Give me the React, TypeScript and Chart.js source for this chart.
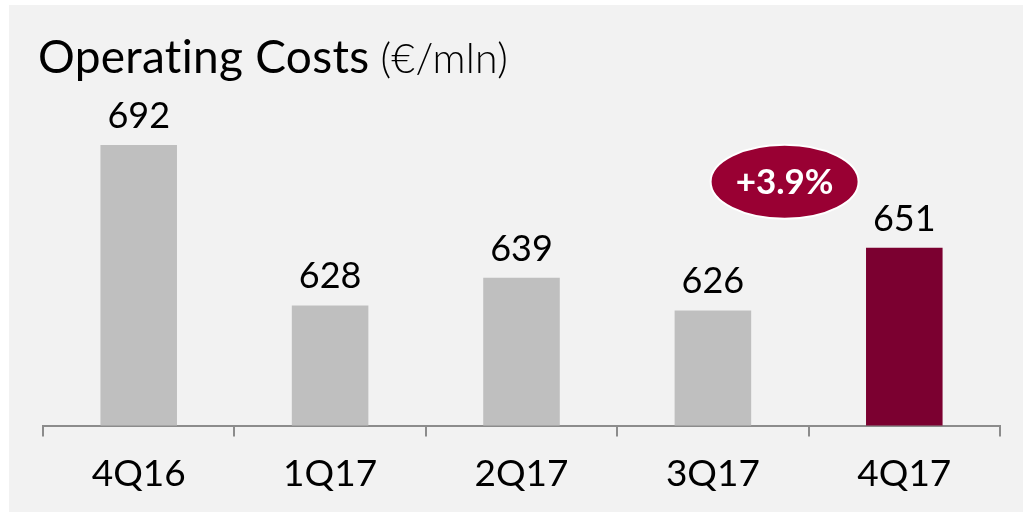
import React, { useEffect, useRef } from "react";
import { Chart, registerables } from "chart.js";

Chart.register(...registerables);

const categories = ["4Q16", "1Q17", "2Q17", "3Q17", "4Q17"];
const values = [692, 628, 639, 626, 651];
const barColors = ["#bfbfbf", "#bfbfbf", "#bfbfbf", "#bfbfbf", "#7b0030"];
const titleMain = "Operating Costs";
const titleUnit = "(€/mln)";
const badgeText = "+3.9%";
const yMin = 580;
const yMax = 716;

const overlay = {
  id: "overlay",
  afterDraw(chart: any) {
    const ctx = chart.ctx;
    ctx.save();
    ctx.fillStyle = "#000";
    ctx.textBaseline = "alphabetic";
    ctx.textAlign = "left";
    try {
      ctx.textRendering = "optimizeSpeed";
      ctx.letterSpacing = "0.3px";
    } catch (e) {}
    ctx.font = "400 46px Lato";
    ctx.fillText(titleMain, 29, 68);
    const w = ctx.measureText(titleMain).width;
    ctx.font = "300 41px Lato";
    ctx.fillText(titleUnit, 29 + w + 11, 68);
    try {
      ctx.letterSpacing = "0px";
    } catch (e) {}

    const meta = chart.getDatasetMeta(0);
    ctx.font = "400 36px Lato";
    ctx.textAlign = "center";
    meta.data.forEach((bar: any, i: number) => {
      ctx.fillText(String(values[i]), bar.x, bar.y - 17);
    });

    const b3 = meta.data[3];
    const b4 = meta.data[4];
    const cx = (b3.x + b4.x) / 2 - 24;
    const cy = b4.y - 66;
    ctx.beginPath();
    ctx.ellipse(cx, cy, 74, 37, 0, 0, Math.PI * 2);
    ctx.fillStyle = "#990033";
    ctx.fill();
    ctx.lineWidth = 2;
    ctx.strokeStyle = "#ffffff";
    ctx.stroke();
    ctx.fillStyle = "#ffffff";
    ctx.font = "700 35px Lato";
    ctx.textAlign = "center";
    ctx.fillText(badgeText, cx, cy + 12);
    ctx.restore();
  },
};

export default function App() {
  const ref = useRef<HTMLCanvasElement | null>(null);
  useEffect(() => {
    if (!ref.current) return;
    const chart = new Chart(ref.current, {
      type: "bar",
      data: {
        labels: categories,
        datasets: [
          {
            data: values,
            backgroundColor: barColors,
            categoryPercentage: 1,
            barPercentage: 0.4,
          },
        ],
      },
      options: {
        responsive: false,
        animation: false,
        devicePixelRatio: 1,
        layout: { padding: { left: 34, right: 23, top: 80, bottom: 1 } },
        plugins: { legend: { display: false }, tooltip: { enabled: false }, title: { display: false } },
        scales: {
          x: {
            offset: true,
            grid: {
              display: true,
              offset: true,
              drawOnChartArea: false,
              drawTicks: true,
              tickLength: 11,
              color: "#8c8c8c",
              lineWidth: 2,
            },
            border: { display: true, color: "#8c8c8c", width: 2 },
            ticks: { color: "#000", font: { family: "Lato", size: 37 }, padding: 15 },
          },
          y: { display: false, min: yMin, max: yMax },
        },
      },
      plugins: [overlay],
    });
    return () => chart.destroy();
  }, []);
  return (
    <div style={{ position: "absolute", left: 9, top: 5, width: 1014, height: 507, background: "#f2f2f2" }}>
      <canvas ref={ref} width={1014} height={507} />
    </div>
  );
}
